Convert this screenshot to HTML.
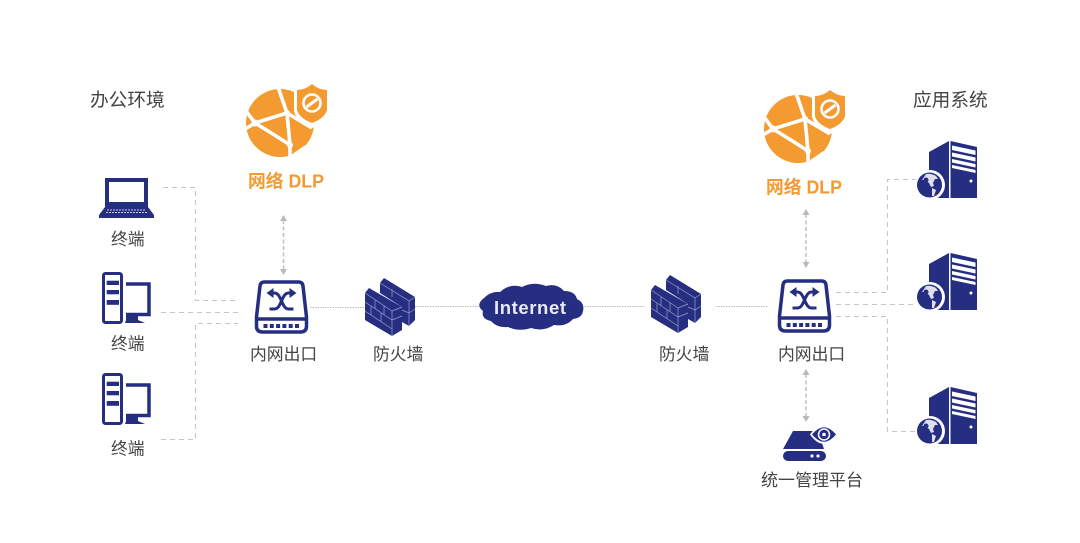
<!DOCTYPE html>
<html>
<head>
<meta charset="utf-8">
<style>
html,body{margin:0;padding:0;background:#fff;width:1080px;height:543px;overflow:hidden}
svg{display:block}
text{font-family:"Liberation Sans","Noto Sans CJK SC",sans-serif}
.l{fill:#444;font-size:16.8px}
.h{fill:#444;font-size:18.7px}
.o{fill:#f39a31;font-size:18px;font-weight:700}
.d{fill:none;stroke:#c6c6c6;stroke-width:1.1;stroke-dasharray:5 4}
.s{fill:none;stroke:#bdbdbd;stroke-width:1;stroke-dasharray:1.5 1}
.a{fill:none;stroke:#c0c0c0;stroke-width:1.5;stroke-dasharray:4 2.5}
</style>
</head>
<body>
<svg width="1080" height="543" viewBox="0 0 1080 543" xmlns="http://www.w3.org/2000/svg">
<defs>
<g id="dlp">
  <circle cx="34" cy="39" r="34" fill="#f39a31"/>
  <g fill="none" stroke="#fff" stroke-width="3.600">
    <path d="M32 3 L41 29 L9 39 L0 27"/>
    <path d="M9 39 L-1 45"/>
    <path d="M9 39 Q24 48 44 61 L41 29 L66 44"/>
    <path d="M44 61 L44 76"/>
    <path d="M47 71 L60 62" stroke-width="2.500"/>
  </g>
  <circle cx="41" cy="29" r="3" fill="#fff"/>
  <circle cx="9" cy="39" r="3.500" fill="#fff"/>
  <circle cx="44" cy="61" r="3" fill="#fff"/>
  <path d="M66 -3 Q57 5 48 5 L48 27 Q50 37 66 44 Q83 37 84 27 L84 0 Z" fill="#fff"/>
  <path d="M66 0 Q59 6 51 6 L51 26 Q53 34 66 39 Q79 34 81 26 L81 6 Q73 6 66 0Z" fill="#f39a31"/>
  <circle cx="66" cy="19" r="8.500" fill="none" stroke="#fff" stroke-width="2.600"/>
  <path d="M60.500 23 L71.500 15" stroke="#fff" stroke-width="3"/>
</g>
<g id="sw">
  <path d="M10 3 H44 Q48 3 48.500 7 L52 38 V47 Q52 53 46 53 H8 Q2 53 2 47 V38 L5.500 7 Q6 3 10 3Z" fill="#fff" stroke="#262e82" stroke-width="3.500"/>
  <path d="M2 40 H52" stroke="#262e82" stroke-width="3.500"/>
  <g fill="#262e82">
    <rect x="9" y="45" width="4" height="4"/><rect x="15.300" y="45" width="4" height="4"/><rect x="21.600" y="45" width="4" height="4"/><rect x="27.900" y="45" width="4" height="4"/><rect x="34.200" y="45" width="4" height="4"/><rect x="40.500" y="45" width="4" height="4"/>
    <path d="M12 14 L19 9 V19Z"/><path d="M42 14 L35 9 V19Z"/>
  </g>
  <path d="M17 14 H20 C27 14 27 30 34 30 H39 M37 14 H34 C27 14 27 30 20 30 H15" fill="none" stroke="#262e82" stroke-width="3"/>
</g>
<g id="fw">
  <path d="M15 5 L19 0 L50 19 V42 L44 48 L37 44 V29 L15 15Z" fill="#262e82"/>
  <path d="M0 15 L4 10 L37 29 V52 L27 58 L0 42Z" fill="#262e82"/>
  <g fill="none" stroke="#9a9ec9" stroke-width=".7">
    <path d="M0 15 L27 33 V58 M27 33 L37 29"/>
    <path d="M0 24 L27 42 M0 33 L27 51"/>
    <path d="M10 22 V31 M19 28 V37 M6 28 V37 M16 35 V44"/>
    <path d="M27 42 L37 38"/>
    <path d="M15 5 L44 23 V48 M44 23 L50 19 M37 32 L44 35 L50 31"/>
    <path d="M27 11 V19"/>
  </g>
</g>
<g id="srv">
  <path d="M12 11 L32 0 V57 H12Z" fill="#262e82"/>
  <path d="M33.500 0 L60 6 V57 H33.500Z" fill="#262e82"/>
  <g fill="#fff">
    <path d="M35 4.500 L58.500 9.500 V14 L35 9Z"/>
    <path d="M35 11.500 L58.500 16.500 V20.500 L35 15.500Z"/>
    <path d="M35 18 L58.500 23 V26.500 L35 21.500Z"/>
    <path d="M35 24 L58.500 29 V32 L35 27Z"/>
    <circle cx="54" cy="40" r="1.500"/>
  </g>
  <circle cx="13" cy="44" r="15" fill="#fff"/>
  <circle cx="12.500" cy="44" r="12.500" fill="#262e82"/>
  <path d="M9 33 Q14 32 19 35 L21 38 L18 38 L16 42 L17 45 L14 46 L12 42 L8 39 L5 39 Z M15 47 L19 49 L17 55 L15 55Z" fill="#dfe0ef"/>
  <circle cx="9" cy="39" r="2.500" fill="#262e82"/>
</g>
<g id="pc">
  <rect x="1.500" y="1.500" width="18" height="49" rx="2" fill="#fff" stroke="#262e82" stroke-width="3"/>
  <rect x="4.700" y="8.700" width="12.300" height="4.300" fill="#262e82"/>
  <rect x="4.700" y="18" width="12.300" height="4.300" fill="#262e82"/>
  <rect x="4.700" y="28" width="12.300" height="4.800" fill="#262e82"/>
  <path d="M24 12 H47 V42.500 H24" fill="none" stroke="#262e82" stroke-width="3.500"/>
  <path d="M24 44 H36 V48 L43 51 H23 L24 48Z" fill="#262e82"/>
</g>
<path id="au" d="M0 0 L3.500 6 H-3.500Z" fill="#b9b9b9"/>
<path id="ad" d="M0 0 L3.500 -6 H-3.500Z" fill="#b9b9b9"/>
</defs>

<!-- connectors -->
<path class="d" d="M163 187.500 H195.500 V300.500 H236"/>
<path class="d" d="M161 312.500 H238"/>
<path class="d" d="M161 439.500 H195.500 V323.500 H238"/>
<path class="s" d="M310 307.500 H365"/>
<path class="s" d="M415 306.500 H480"/>
<path class="s" d="M582 306.500 H645"/>
<path class="s" d="M716 306.500 H768"/>
<path class="d" d="M836 292.500 H887.500 V179.500 H918"/>
<path class="d" d="M836 304.500 H918"/>
<path class="d" d="M836 316.500 H887.500 V431.500 H917"/>

<path class="a" d="M283.500 220 V270"/><use href="#au" x="283.500" y="215"/><use href="#ad" x="283.500" y="275"/>
<path class="a" d="M806 214 V262"/><use href="#au" x="806" y="209"/><use href="#ad" x="806" y="268"/>
<path class="a" d="M806 374 V416"/><use href="#au" x="806" y="369"/><use href="#ad" x="806" y="422"/>

<!-- DLP -->
<use href="#dlp" x="246" y="84"/>
<use href="#dlp" x="764" y="90"/>

<!-- laptop -->
<path d="M105 178 H148 V207 H105Z" fill="#262e82"/>
<rect x="109" y="182" width="35" height="20" fill="#fff"/>
<path d="M105 207 H148 L154 215 V218 H99 V215Z" fill="#262e82"/>
<path d="M107 210 H146 M106 212.500 H147" stroke="#c9cbe2" stroke-width="1" stroke-dasharray="2 1"/>

<use href="#pc" x="102" y="272"/>
<use href="#pc" x="102" y="373"/>

<use href="#sw" x="254.500" y="279"/>
<use href="#sw" x="777.500" y="278"/>
<use href="#fw" x="365" y="278"/>
<use href="#fw" x="651" y="275"/>

<!-- cloud -->
<path d="M484 298 Q491 291 500 292 Q510 283 522 287 Q533 281 546 286 Q557 283 564 291 Q575 291 577 299 Q585 303 583 311 Q582 318 573 319 Q566 327 554 325 Q543 332 531 328 Q519 332 508 327 Q497 328 491 321 Q481 319 483 311 Q475 305 484 298Z" fill="#262e82"/>
<text x="494" y="314" font-size="18.500" font-weight="700" fill="#e8e9f5" textLength="72" lengthAdjust="spacing">Internet</text>

<use href="#srv" x="917" y="141"/>
<use href="#srv" x="917" y="253"/>
<use href="#srv" x="917" y="387"/>

<!-- management -->
<path d="M793 431 H818 L824 449 H783Z" fill="#262e82"/>
<rect x="783" y="451" width="43" height="10" rx="5" fill="#262e82"/>
<circle cx="812" cy="456" r="1.600" fill="#fff"/><circle cx="818" cy="456" r="1.600" fill="#fff"/>
<path d="M810 434.500 Q823 416 838 434.500 Q823 453 810 434.500Z" fill="#fff"/>
<path d="M812 434.500 Q824 420 836 434.500 Q824 449 812 434.500Z" fill="#262e82"/>
<circle cx="824" cy="434.500" r="5.500" fill="none" stroke="#fff" stroke-width="1.500"/>
<circle cx="824" cy="434.500" r="1.800" fill="#fff"/>

<!-- labels -->
<text class="h" x="90" y="106.500">办公环境</text>
<text class="h" x="913" y="106.500">应用系统</text>
<text class="o" x="248" y="187.500" textLength="76" lengthAdjust="spacingAndGlyphs">网络 DLP</text>
<text class="o" x="766" y="193.500" textLength="76" lengthAdjust="spacingAndGlyphs">网络 DLP</text>
<text class="l" x="111" y="245">终端</text>
<text class="l" x="111" y="349.500">终端</text>
<text class="l" x="111" y="454.500">终端</text>
<text class="l" x="250" y="360">内网出口</text>
<text class="l" x="373" y="360">防火墙</text>
<text class="l" x="659" y="360">防火墙</text>
<text class="l" x="778" y="360">内网出口</text>
<text class="l" x="761" y="486" style="font-size:17px">统一管理平台</text>
</svg>
</body>
</html>
